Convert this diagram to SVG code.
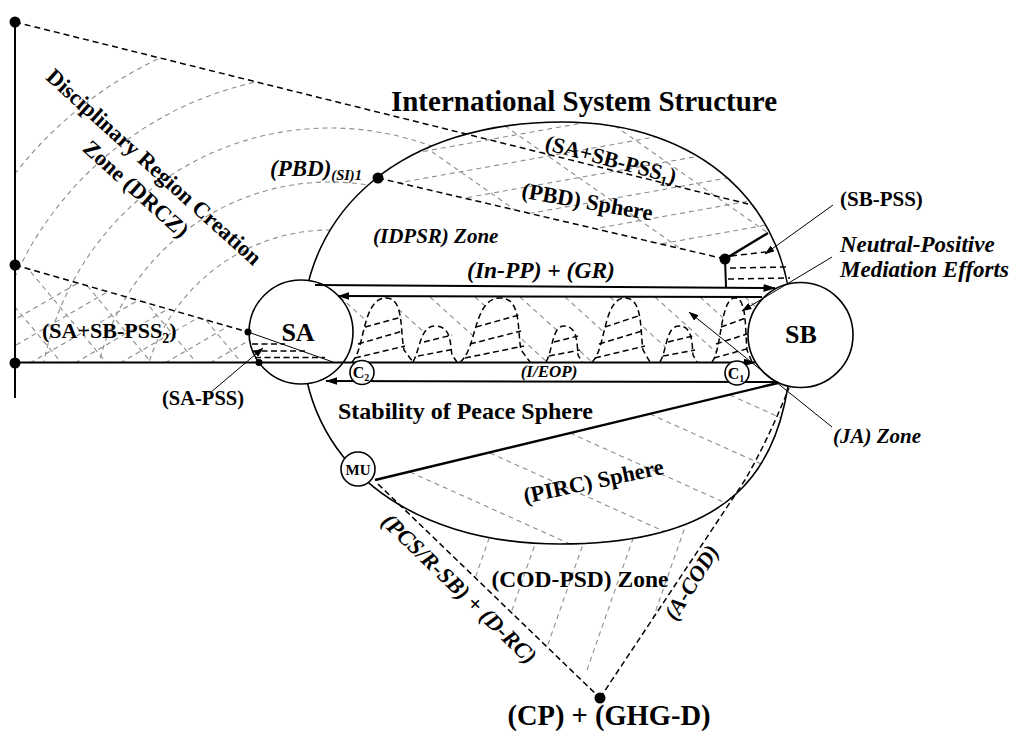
<svg xmlns="http://www.w3.org/2000/svg" width="1016" height="733" viewBox="0 0 1016 733">
<defs>
<style>
.t{font-family:"Liberation Serif","Times New Roman",serif;font-weight:bold;fill:#000}
.i{font-style:italic}
.ln{stroke:#000;stroke-width:2;fill:none}
.thk{stroke:#000;stroke-width:2.4;fill:none}
.thin{stroke:#000;stroke-width:1;fill:none}
.dk{stroke:#000;stroke-width:1.5;fill:none;stroke-dasharray:6 4}
.dk2{stroke:#000;stroke-width:1.5;fill:none;stroke-dasharray:6 3.5}
.gr{stroke:#8c8c8c;stroke-width:1.1;fill:none;stroke-dasharray:5 4}
.bump{fill:#fff;stroke:#000;stroke-width:1.5;stroke-dasharray:6 3.5}
.nd{fill:#fff;stroke:#000;stroke-width:1.6}
.dot{fill:#000}
</style>
<marker id="ah" viewBox="0 0 12 8" refX="11.5" refY="4" markerWidth="12" markerHeight="8" markerUnits="userSpaceOnUse" orient="auto-start-reverse"><path d="M0,0L12,4L0,8z"/></marker>
<marker id="as" viewBox="0 0 10 7" refX="9.5" refY="3.5" markerWidth="10" markerHeight="7" markerUnits="userSpaceOnUse" orient="auto"><path d="M0,0L10,3.5L0,7z"/></marker>
<path id="ell" d="M302,335 C302,207 406,122 562,122 C700,122 792,205 792,330 C792,480 722,544 560,544 C405,544 302,460 302,335 Z"/>
<clipPath id="cEll"><use href="#ell"/></clipPath>
<clipPath id="cPBD"><polygon points="300,0 830,0 830,228 768,233 725,259 378,178 300,160"/></clipPath>
<clipPath id="cP2"><polygon points="15,265 248,332 262,363 15,363"/></clipPath>
<clipPath id="cBand"><rect x="315" y="297" width="470" height="65"/></clipPath>
<clipPath id="cPIRC"><polygon points="375,480 778,383 820,383 820,570 330,570"/></clipPath>
<mask id="mDR" maskUnits="userSpaceOnUse" x="0" y="0" width="1016" height="733">
<polygon points="15,22 752,204 752,363 15,363" fill="#fff"/>
<use href="#ell" fill="#000"/>
<circle cx="301" cy="332" r="52" fill="#000"/>
</mask>
<mask id="mCOD" maskUnits="userSpaceOnUse" x="0" y="0" width="1016" height="733">
<polygon points="377,483 600,698 745,480 790,388 600,388" fill="#fff"/>
<use href="#ell" fill="#000"/>
</mask>
</defs>
<rect width="1016" height="733" fill="#fff"/>

<g id="hatching">
<g mask="url(#mDR)">
<circle class="gr" cx="330" cy="420" r="190"/>
<circle class="gr" cx="330" cy="420" r="238"/>
<circle class="gr" cx="330" cy="420" r="292"/>
<circle class="gr" cx="330" cy="420" r="346"/>
<circle class="gr" cx="330" cy="420" r="400"/>
</g>
<g clip-path="url(#cP2)">
<path class="gr" d="M-60,363L140,247M-15,363L185,247M30,363L230,247M75,363L275,247M120,363L320,247M165,363L365,247M210,363L410,247"/>
<path class="gr" d="M-20,265L80,385M25,265L125,385M70,265L170,385M115,265L215,385M160,265L260,385M205,265L305,385"/>
</g>
<g clip-path="url(#cEll)"><g clip-path="url(#cPBD)">
<path class="gr" d="M370,134L800,57M370,161L800,84M370,188L800,111M370,215L800,138M370,242L800,165M370,269L800,192M370,296L800,219M370,323L800,246"/>
<path class="gr" d="M358,100L608,275M468,100L718,275M578,100L828,275M688,100L938,275M248,100L498,275"/>
</g></g>
<g clip-path="url(#cBand)">
<path class="gr" d="M340,297l72,65M385,297l72,65M430,297l72,65M475,297l72,65M520,297l72,65M565,297l72,65M610,297l72,65M655,297l72,65M700,297l72,65M745,297l72,65"/>
</g>
<g clip-path="url(#cEll)"><g clip-path="url(#cPIRC)">
<path class="gr" d="M410,472l300,135M490,453l300,135M570,433l300,135M650,414l300,135M730,395l300,135M330,491l300,135"/>
</g></g>
<g mask="url(#mCOD)">
<path class="gr" d="M513,470L443,670M561,470L491,670M609,470L539,670M657,470L587,670M705,470L635,670M753,470L683,670"/>
</g>
</g>

<g id="bumps">
<path class="bump" d="M352,362C365,350 362,298 386,298C404,298 400,330 404,350L413,362"/>
<path class="dk2" d="M365,327L402,317M358,344L403,331M355,358L405,346"/>
<path class="bump" d="M413,362C420,350 420,326 435,326C452,326 450,345 452,355L457,362"/>
<path class="dk2" d="M424,342L452,335M418,356L455,349"/>
<path class="bump" d="M460,362C477,350 473,298 500,298C522,298 517,330 521,350L530,362"/>
<path class="dk2" d="M476,327L519,315M470,344L521,331M465,358L524,346"/>
<path class="bump" d="M546,362C553,350 552,326 564,326C578,326 577,345 578,355L582,362"/>
<path class="dk2" d="M554,342L578,336M549,356L580,350"/>
<path class="bump" d="M592,362C606,350 603,298 625,298C643,298 640,330 643,350L650,362"/>
<path class="dk2" d="M605,327L641,315M599,344L642,331M595,358L645,346"/>
<path class="bump" d="M660,362C667,350 666,326 679,326C693,326 692,345 693,355L697,362"/>
<path class="dk2" d="M668,342L693,336M663,356L695,350"/>
<path class="bump" d="M712,362C722,350 720,298 735,298C747,298 745,330 747,350L752,362"/>
<path class="dk2" d="M721,327L746,318M716,344L747,334M714,358L750,348"/>
</g>

<g id="structure">
<use href="#ell" fill="none" stroke="#000" stroke-width="1.6"/>
</g>

<g id="SA"><circle class="nd" cx="301" cy="332" r="52"/></g>
<g id="SB"><circle class="nd" cx="800.5" cy="335" r="52.5"/></g>

<g id="connectors">
<path class="ln" d="M15,20V398"/>
<path class="ln" d="M15,362.5H755" marker-end="url(#ah)"/>
<path class="ln" d="M315,285L775,288" marker-end="url(#ah)"/>
<path class="ln" d="M338,296L762,297" marker-start="url(#ah)"/>
<path class="ln" d="M326,381L778,382" marker-start="url(#ah)"/>
<path class="dk" d="M15,22L748,204"/>
<path class="dk" d="M378,178L725,259"/>
<path class="dk" d="M15,265L248,332"/>
<path class="thk" d="M725,259L768,233"/>
<path class="ln" d="M725,259L726,287"/>
<path class="dk" d="M731,256L766,252M730,268L787,267M728,279L790,278"/>
<path class="thk" d="M375,480L778,383"/>
<path class="dk2" d="M378,484L600,698" stroke-width="1.3"/>
<path class="dk2" d="M600,698L745,480Q768,440 789,388" stroke-width="1.3"/>
<path class="thin" d="M248,332L333,362"/>
<path class="dk2" d="M252,344L285,344M252,351L305,351M255,357.5L325,357.5"/>
<path class="thin" d="M210,393L263,348" marker-end="url(#as)"/>
<path class="thin" d="M833,205L765,254" marker-end="url(#as)"/>
<path class="thin" d="M832,257L742,311" marker-end="url(#as)"/>
<path class="thin" d="M832,427L689,312" marker-end="url(#as)"/>
</g>

<g id="MU"><circle class="nd" cx="358" cy="469" r="17"/><text class="t" x="358" y="475" font-size="15" text-anchor="middle">MU</text></g>
<g id="C2"><circle class="nd" cx="362" cy="372.5" r="12"/><text class="t" x="361" y="378" font-size="16" text-anchor="middle">C<tspan font-size="10" dy="3">2</tspan></text></g>
<g id="C1"><circle class="nd" cx="737" cy="373" r="12"/><text class="t" x="736" y="378.5" font-size="16" text-anchor="middle">C<tspan font-size="10" dy="3">1</tspan></text></g>

<g id="points">
<circle class="dot" cx="15" cy="22" r="5.5"/>
<circle class="dot" cx="15" cy="265" r="5.5"/>
<circle class="dot" cx="15" cy="363" r="5.5"/>
<circle class="dot" cx="378" cy="178" r="5.5"/>
<circle class="dot" cx="725" cy="259" r="5.5"/>
<circle class="dot" cx="248" cy="332" r="3.5"/>
<circle class="dot" cx="259" cy="362.5" r="3.5"/>
<circle class="dot" cx="600" cy="698" r="5.5"/>
</g>

<g id="labels">
<text class="t" x="584" y="111" font-size="29" text-anchor="middle">International System Structure</text>
<text class="t" font-size="22.5" text-anchor="middle" transform="translate(149,172.5) rotate(42)">Disciplinary Region Creation</text>
<text class="t" font-size="22.5" text-anchor="middle" transform="translate(131,194.5) rotate(42)">Zone (DRCZ)</text>
<text class="t i" x="270" y="176" font-size="23">(PBD)<tspan font-size="14.5" dy="4">(SI)1</tspan></text>
<text class="t" font-size="22" text-anchor="middle" transform="translate(609,166.5) rotate(14.8)">(SA+SB-PSS<tspan font-size="14" dy="5">1</tspan><tspan dy="-5">)</tspan></text>
<text class="t" font-size="22.5" text-anchor="middle" transform="translate(586,209) rotate(10)">(PBD) Sphere</text>
<text class="t i" x="373" y="243" font-size="21">(IDPSR) Zone</text>
<text class="t i" x="541" y="278" font-size="23.5" text-anchor="middle">(In-PP) + (GR)</text>
<text class="t" x="840" y="206" font-size="21">(SB-PSS)</text>
<text class="t i" x="840" y="252" font-size="23">Neutral-Positive</text>
<text class="t i" x="840" y="277" font-size="23">Mediation Efforts</text>
<text class="t" x="298" y="341" font-size="26" text-anchor="middle">SA</text>
<text class="t" x="801" y="343" font-size="26" text-anchor="middle">SB</text>
<text class="t" x="42" y="338" font-size="22">(SA+SB-PSS<tspan font-size="14" dy="5">2</tspan><tspan dy="-5">)</tspan></text>
<text class="t" x="162" y="405" font-size="20.5">(SA-PSS)</text>
<text class="t i" x="549" y="377" font-size="17" text-anchor="middle">(I/EOP)</text>
<text class="t" x="338" y="419" font-size="24">Stability of Peace Sphere</text>
<text class="t i" x="833" y="443" font-size="21">(JA) Zone</text>
<text class="t" font-size="22.5" text-anchor="middle" transform="translate(595,488.6) rotate(-12)">(PIRC) Sphere</text>
<text class="t" x="580" y="587" font-size="23.5" text-anchor="middle">(COD-PSD) Zone</text>
<text class="t i" font-size="22.5" text-anchor="middle" transform="translate(454,594) rotate(44)">(PCS/R-SB) + (D-RC)</text>
<text class="t i" font-size="22" text-anchor="middle" transform="translate(697.7,586.4) rotate(-58)">(A-COD)</text>
<text class="t" x="609" y="725" font-size="28.5" text-anchor="middle">(CP) + (GHG-D)</text>
</g>
</svg>
